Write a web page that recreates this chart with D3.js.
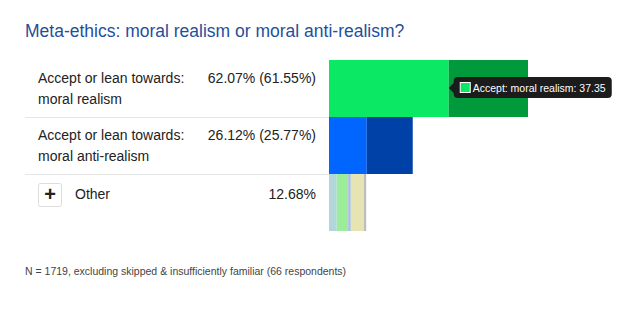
<!DOCTYPE html>
<html>
<head>
<meta charset="utf-8">
<script src="https://cdn.jsdelivr.net/npm/d3@7"></script>
<style>
  body { margin: 0; background: #fff; font-family: "Liberation Sans", Arial, sans-serif; }
</style>
</head>
<body>
<svg id="chart" width="624" height="311"></svg>
<script>
const categories = ["realism", "antirealism", "other"];
const rowLabels = [
  ["Accept or lean towards:", "moral realism"],
  ["Accept or lean towards:", "moral anti-realism"],
  ["Other"]
];
const rowTotals = ["62.07% (61.55%)", "26.12% (25.77%)", "12.68%"];
// stacked segments per row (accept, lean / other answers)
const realismValues = [37.35, 24.72];
const antiRealismValues = [11.78, 14.34];
const otherValues = [2.4, 3.6, 0.8, 4.1, 0.7];

const realismColors = ["#0be864", "#009a3c"];
const antiRealismColors = ["#0066ff", "#0041a8"];
const otherColors = ["#b3d6da", "#9cec9c", "#a9bde6", "#e6e4b2", "#bdbdbd"];

const svg = d3.select("#chart");

const x = d3.scaleLinear().domain([0, 100]).range([329, 329 + 320.6]);
const y = d3.scaleBand().domain(categories).range([60, 231]).padding(0);

svg.append("text")
  .attr("x", 25)
  .attr("y", 37)
  .attr("font-size", 17.5)
  .attr("fill", "#1f4f9c")
  .text("Meta-ethics: moral realism or moral anti-realism?");

const rows = [
  { key: "realism", values: realismValues, colors: realismColors },
  { key: "antirealism", values: antiRealismValues, colors: antiRealismColors },
  { key: "other", values: otherValues, colors: otherColors }
];

rows.forEach((r) => {
  let acc = 0;
  r.segs = r.values.map((v, i) => {
    const s = { x0: acc, x1: acc + v, color: r.colors[i] };
    acc += v;
    return s;
  });
});

const row = svg
  .selectAll("g.row")
  .data(rows)
  .enter()
  .append("g")
  .attr("class", "row");

row
  .selectAll("rect")
  .data((d) => d.segs.map((s) => ({ ...s, key: d.key })))
  .enter()
  .append("rect")
  .attr("x", (d) => x(d.x0))
  .attr("y", (d) => y(d.key))
  .attr("width", (d) => x(d.x1) - x(d.x0))
  .attr("height", y.bandwidth())
  .attr("fill", (d) => d.color);

// separators
svg.selectAll("line.sep")
  .data(categories.slice(1))
  .enter()
  .append("line")
  .attr("x1", 25)
  .attr("x2", 329)
  .attr("y1", (d) => y(d) + 0.5)
  .attr("y2", (d) => y(d) + 0.5)
  .attr("stroke", "#e6e6e6");

// labels
categories.forEach((c, i) => {
  const top = y(c);
  const lines = rowLabels[i];
  if (c === "other") {
    svg.append("rect")
      .attr("x", 38.5).attr("y", 183.5)
      .attr("width", 23).attr("height", 23)
      .attr("rx", 2)
      .attr("fill", "#fff")
      .attr("stroke", "#dcdcdc");
    svg.append("text")
      .attr("x", 50).attr("y", 201)
      .attr("text-anchor", "middle")
      .attr("font-size", 20)
      .attr("font-weight", "bold")
      .attr("fill", "#222")
      .text("+");
    svg.append("text")
      .attr("x", 75).attr("y", top + 25)
      .attr("font-size", 14)
      .attr("fill", "#222")
      .text(lines[0]);
  } else {
    lines.forEach((t, j) => {
      svg.append("text")
        .attr("x", 38)
        .attr("y", top + 23 + j * 21)
        .attr("font-size", 14)
        .attr("fill", "#222")
        .text(t);
    });
  }
  svg.append("text")
    .attr("x", 316)
    .attr("y", top + (c === "other" ? 25 : 23))
    .attr("text-anchor", "end")
    .attr("font-size", 14)
    .attr("fill", "#222")
    .text(rowTotals[i]);
});

// footer
svg.append("text")
  .attr("x", 25)
  .attr("y", 275)
  .attr("font-size", 10.5)
  .attr("fill", "#444")
  .text("N = 1719, excluding skipped & insufficiently familiar (66 respondents)");

// tooltip on the accept segment of moral realism
const tipX = x(realismValues[0]);
const tipY = y("realism") + 28;
const tip = svg.append("g").attr("transform", `translate(${tipX},${tipY})`);
tip.append("path")
  .attr("d", "M0,0 L6,-6 L6,6 Z")
  .attr("fill", "#1c1c1c");
const tipText = "Accept: moral realism: " + realismValues[0];
tip.append("rect")
  .attr("x", 5).attr("y", -11)
  .attr("width", 158).attr("height", 21)
  .attr("rx", 4)
  .attr("fill", "#1c1c1c");
tip.append("rect")
  .attr("x", 11.5).attr("y", -5.5)
  .attr("width", 10).attr("height", 10)
  .attr("fill", realismColors[0])
  .attr("stroke", "#fff");
const tt = tip.append("text")
  .attr("x", 24).attr("y", 4)
  .attr("font-size", 12)
  .attr("fill", "#fff")
  .text(tipText);
const w = tt.node().getComputedTextLength();
if (w > 133) tt.attr("font-size", 12 * 133 / w);
</script>
</body>
</html>
